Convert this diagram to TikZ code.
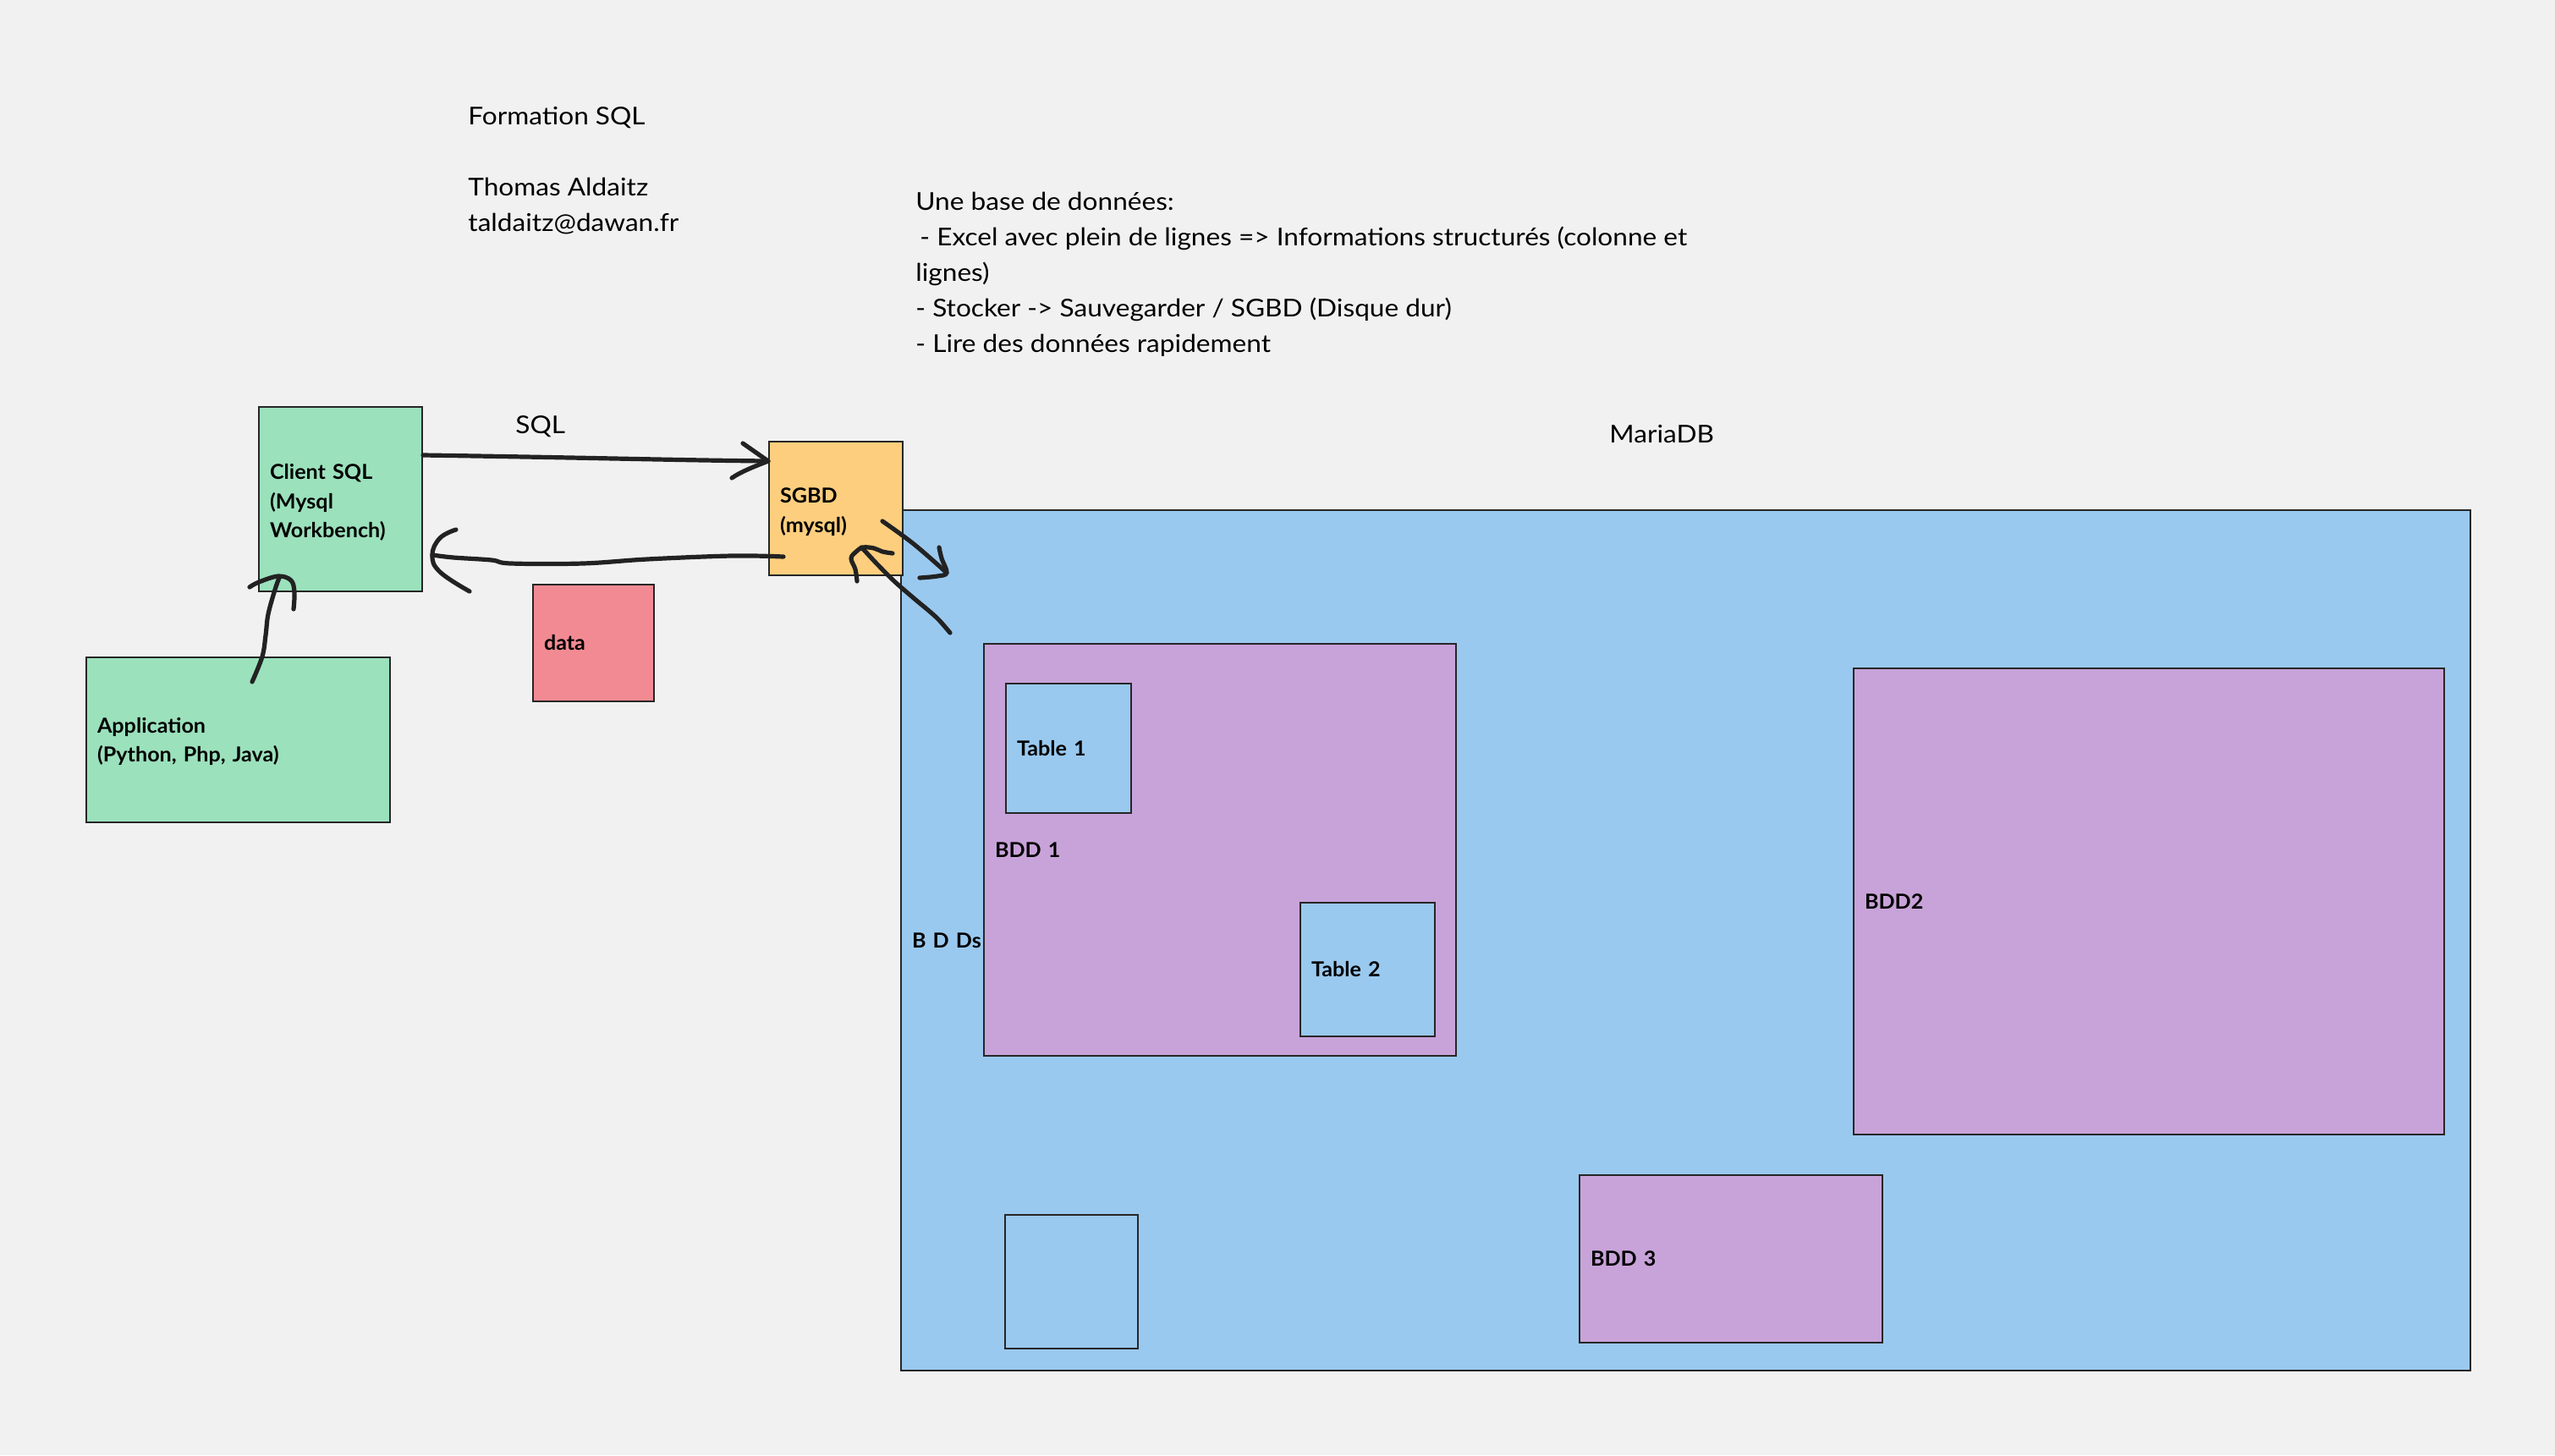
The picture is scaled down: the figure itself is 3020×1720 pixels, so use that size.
\documentclass[tikz,border=0pt]{standalone}
\usepackage{fontspec}
\setmainfont{Lato}[FakeStretch=1.09]
\newfontfamily\boxfam{Lato}[FakeStretch=1.03]
\definecolor{bgc}{HTML}{F1F1F1}
\definecolor{greenc}{HTML}{9BE1BC}
\definecolor{orangec}{HTML}{FDCE7E}
\definecolor{pinkc}{HTML}{F28A93}
\definecolor{bluec}{HTML}{9AC9EF}
\definecolor{purplec}{HTML}{C8A3D9}
\definecolor{linec}{HTML}{262626}
\definecolor{inkc}{HTML}{222222}
\newcommand\bxfont{\boxfam\fontsize{12.2}{17.4}\selectfont\bfseries}
\newcommand\mnfont{\fontsize{14.5}{21}\selectfont}
\newcommand\topstrut[1]{\rule{0pt}{#1}}
\begin{document}
\begin{tikzpicture}[x=0.5pt,y=-0.5pt,
  box/.style={draw=linec, line width=0.9pt, inner xsep=6.5pt, inner ysep=0pt,
    outer sep=0pt, align=left, anchor=north west, font=\bxfont, text=black},
  stroke/.style={draw=inkc, line width=2.6pt, line cap=round, line join=round},
  txt/.style={font=\mnfont, anchor=west, align=left, inner sep=0pt, text=black}]
\useasboundingbox (0,0) rectangle (3020,1720);
\fill[bgc] (0,0) rectangle (3020,1720);

% free texts
\node[txt] (title) at (553,139) {Formation SQL};
\node[txt] (author) at (553,244) {Thomas Aldaitz\\taldaitz@dawan.fr};
\node[txt] (notes) at (1082,324) {Une base de données:\\\hspace*{2.5pt}- Excel avec plein de lignes => Informations structurés (colonne et\\lignes)\\- Stocker -> Sauvegarder / SGBD (Disque dur)\\- Lire des données rapidement};
\node[txt] (sqllbl) at (609,504) {SQL};
\node[txt] (maria) at (1902,513) {MariaDB};

% boxes
\node[box, fill=greenc, text width=83.5pt, minimum height=109pt] (client) at (306,481) {\topstrut{13pt}Client SQL\\(Mysql\\Workbench)};
\node[box, fill=greenc, text width=166.5pt, minimum height=97.5pt] (app) at (102,777) {\topstrut{11pt}Application\\(Python, Php, Java)};
\node[box, fill=pinkc, text width=58.5pt, minimum height=69pt] (data) at (630,691) {data};
\node[box, fill=bluec, text width=914.5pt, minimum height=508.5pt] (mariabox) at (1065,603) {B D Ds};
\node[box, fill=orangec, text width=66pt, minimum height=79pt] (sgbd) at (909,522) {\topstrut{13pt}SGBD\\(mysql)};
\node[box, fill=purplec, text width=266pt, minimum height=243.5pt] (bdd1) at (1163,761) {BDD 1};
\node[box, fill=bluec, text width=61pt, minimum height=76.5pt] (t1) at (1189,808) {Table 1};
\node[box, fill=bluec, text width=66.5pt, minimum height=79pt] (t2) at (1537,1067) {Table 2};
\node[box, fill=purplec, text width=336pt, minimum height=275.5pt] (bdd2) at (2191,790) {BDD2};
\node[box, fill=purplec, text width=166pt, minimum height=99pt] (bdd3) at (1867,1389) {BDD 3};
\node[box, fill=bluec, text width=65.5pt, minimum height=79pt] (empty) at (1188,1436) {};

% connector end points
\coordinate (a1s) at (500,538);
\coordinate (a1e) at (908,545);
\coordinate (a2s) at (926,658);
\coordinate (a2e) at (511,656);
\coordinate (a3s) at (298,806);
\coordinate (a3e) at (330,683);
\coordinate (a4s) at (1043,616);
\coordinate (a4e) at (1119,677);
\coordinate (a5s) at (1123,748);
\coordinate (a5e) at (1018,647);

% client -> sgbd
\draw[stroke] (a1s) .. controls (700,541) and (800,544) .. (a1e);
\draw[stroke] (878,524) -- (a1e) .. controls (890,552) and (875,558) .. (865,565);
% sgbd -> client
\draw[stroke] plot[smooth, tension=0.6] coordinates {(a2s) (865,657) (765,661) (689,666) (604,666) (581,662) (536,659) (a2e)};
\draw[stroke] plot[smooth, tension=0.7] coordinates {(539,626) (520,636) (a2e) (520,676) (555,699)};
% application -> client
\draw[stroke] plot[smooth, tension=0.6] coordinates {(a3s) (310,776) (314,751) (317,726) (325,697) (a3e)};
\draw[stroke] plot[smooth, tension=0.6] coordinates {(295,694) (306,688) (329,681) (344,686) (348,700) (347,720)};
% sgbd -> mariadb
\draw[stroke] plot[smooth, tension=0.6] coordinates {(a4s) (1080,643) (a4e)};
\draw[stroke] plot[smooth, tension=0.6] coordinates {(1110,647) (1113,660) (a4e) (1108,681) (1087,683)};
% mariadb -> sgbd
\draw[stroke] plot[smooth, tension=0.6] coordinates {(a5s) (1110,733) (1098,722) (1080,707) (1057,687) (1037,667) (1023,652) (a5e)};
\draw[stroke] plot[smooth, tension=0.6] coordinates {(1013,687) (1011,673) (1006,660) (1012,652) (1020,647) (1033,648) (1043,652) (1055,654)};
\end{tikzpicture}
\end{document}
